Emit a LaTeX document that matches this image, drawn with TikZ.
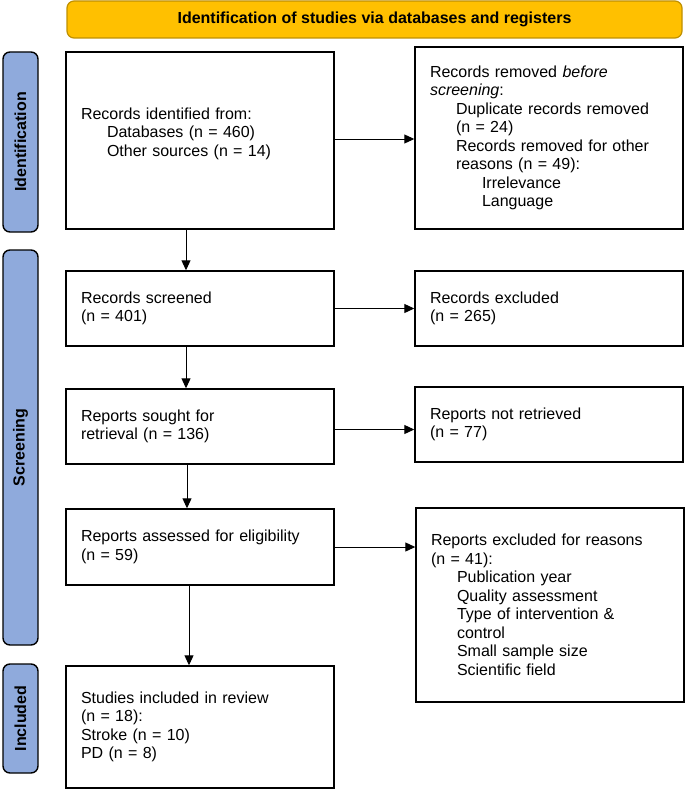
\documentclass[tikz,border=0pt]{standalone}
\usepackage{fontspec}
\setmainfont{Liberation Sans}
\usetikzlibrary{arrows.meta}
\definecolor{hdrfill}{HTML}{FFC000}
\definecolor{hdrline}{HTML}{BF9000}
\definecolor{barfill}{HTML}{8FAADC}
\newcommand{\indA}{\hspace*{26pt}}
\newcommand{\indB}{\hspace*{52pt}}

\begin{document}
\begin{tikzpicture}[x=1pt,y=-1pt,
	box/.style={draw,line width=1.4pt,text width=238pt,inner xsep=15pt,inner ysep=0pt,align=left,font=\fontsize{16}{18.5}\selectfont},
	bar/.style={draw,line width=1.4pt,fill=barfill,rounded corners=7pt,rotate=90,minimum height=35pt,inner sep=0pt,font=\fontsize{16}{18.5}\selectfont\bfseries},
	arr/.style={line width=1pt,-{Triangle[length=10pt,width=9pt]}}]
	\useasboundingbox (0,0) rectangle (685,789);
	% header and phase bars
	\node [draw=hdrline,line width=1.2pt,fill=hdrfill,rounded corners=7pt,minimum width=615pt,minimum height=37pt,font=\fontsize{16}{18.5}\selectfont\bfseries] (head) at (374.5,19.5) {Identification of studies via databases and registers};
	\node [bar,minimum width=180pt] (idbar) at (20.5,142) {Identification};
	\node [bar,minimum width=395pt] (scbar) at (20.5,447.5) {Screening};
	\node [bar,minimum width=109pt] (inbar) at (20.5,718.5) {Included};
	% left column
	\node [box,minimum height=177pt] (idf) at (200,140.5) {Records identified from:\\\indA Databases (n = 460)\\\indA Other sources (n = 14)\\[-1pt]\mbox{}};
	\node [box,minimum height=75pt] (scr) at (200,308.5) {Records screened\\(n = 401)};
	\node [box,minimum height=75pt] (srt) at (200,426.5) {Reports sought for\\retrieval (n = 136)};
	\node [box,minimum height=76pt] (ase) at (200,547) {Reports assessed for eligibility\\(n = 59)};
	\node [box,minimum height=122pt] (inc) at (200,727) {Studies included in review\\(n = 18):\\Stroke (n = 10)\\PD (n = 8)};
	% right column
	\node [box,minimum height=182pt] (rem) at (549,138) {Records removed \textit{before}\\\textit{screening}:\\\indA Duplicate records removed\\\indA (n = 24)\\\indA Records removed for other\\\indA reasons (n = 49):\\\indB Irrelevance\\\indB Language};
	\node [box,minimum height=75pt] (exc) at (549,308.5) {Records excluded\\(n = 265)};
	\node [box,minimum height=75pt] (nrt) at (549,424.5) {Reports not retrieved\\(n = 77)};
	\node [box,minimum height=194pt] (rex) at (550,605) {Reports excluded for reasons\\(n = 41):\\\indA Publication year\\\indA Quality assessment\\\indA Type of intervention \&\\\indA control\\\indA Small sample size\\\indA Scientific field};
	% arrows
	\draw [arr] ([xshift=-14pt]idf.south) -- ([xshift=-14pt]scr.north);
	\draw [arr] ([xshift=-14pt]scr.south) -- ([xshift=-14pt]srt.north);
	\draw [arr] ([xshift=-13pt]srt.south) -- ([xshift=-13pt]ase.north);
	\draw [arr] ([xshift=-11pt]ase.south) -- ([xshift=-11pt]inc.north);
	\draw [arr] ([yshift=1.5pt]idf.east) -- ([yshift=1.5pt]idf.east -| rem.west);
	\draw [arr] (scr.east) -- (scr.east -| exc.west);
	\draw [arr] ([yshift=-3pt]srt.east) -- ([yshift=-3pt]srt.east -| nrt.west);
	\draw [arr] (ase.east) -- (ase.east -| rex.west);
\end{tikzpicture}
\end{document}
